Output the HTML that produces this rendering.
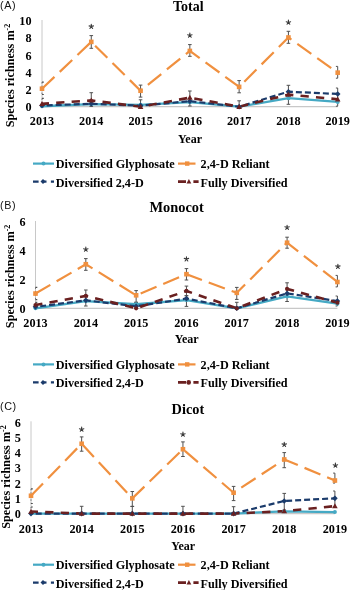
<!DOCTYPE html>
<html><head><meta charset="utf-8"><style>
html,body{margin:0;padding:0;background:#fff;width:350px;height:590px;overflow:hidden;}
svg{display:block;filter:blur(0.3px);}
</style></head><body>
<svg width="350" height="590" viewBox="0 0 350 590">
<rect width="350" height="590" fill="#fff"/>
<text x="0" y="9" font-family='"Liberation Sans", sans-serif' font-size="10.8" letter-spacing="0.6" fill="#111">(A)</text>
<text x="188.3" y="10.5" text-anchor="middle" font-family='"Liberation Serif", serif' font-weight="bold" font-size="14" fill="#000">Total</text>
<line x1="42" y1="20" x2="42" y2="106.7" stroke="#c8c8c8" stroke-width="1"/>
<line x1="42" y1="106.7" x2="337.7" y2="106.7" stroke="#c8c8c8" stroke-width="1.2"/>
<text x="31.5" y="111.3" text-anchor="end" font-family='"Liberation Serif", serif' font-weight="bold" font-size="12.2" fill="#000">0</text>
<text x="31.5" y="94.06" text-anchor="end" font-family='"Liberation Serif", serif' font-weight="bold" font-size="12.2" fill="#000">2</text>
<text x="31.5" y="76.82" text-anchor="end" font-family='"Liberation Serif", serif' font-weight="bold" font-size="12.2" fill="#000">4</text>
<text x="31.5" y="59.58" text-anchor="end" font-family='"Liberation Serif", serif' font-weight="bold" font-size="12.2" fill="#000">6</text>
<text x="31.5" y="42.34" text-anchor="end" font-family='"Liberation Serif", serif' font-weight="bold" font-size="12.2" fill="#000">8</text>
<text x="31.5" y="25.1" text-anchor="end" font-family='"Liberation Serif", serif' font-weight="bold" font-size="12.2" fill="#000">10</text>
<text x="42" y="125" text-anchor="middle" font-family='"Liberation Serif", serif' font-weight="bold" font-size="12.2" fill="#000">2013</text>
<text x="91.28" y="125" text-anchor="middle" font-family='"Liberation Serif", serif' font-weight="bold" font-size="12.2" fill="#000">2014</text>
<text x="140.57" y="125" text-anchor="middle" font-family='"Liberation Serif", serif' font-weight="bold" font-size="12.2" fill="#000">2015</text>
<text x="189.85" y="125" text-anchor="middle" font-family='"Liberation Serif", serif' font-weight="bold" font-size="12.2" fill="#000">2016</text>
<text x="239.13" y="125" text-anchor="middle" font-family='"Liberation Serif", serif' font-weight="bold" font-size="12.2" fill="#000">2017</text>
<text x="288.42" y="125" text-anchor="middle" font-family='"Liberation Serif", serif' font-weight="bold" font-size="12.2" fill="#000">2018</text>
<text x="337.7" y="125" text-anchor="middle" font-family='"Liberation Serif", serif' font-weight="bold" font-size="12.2" fill="#000">2019</text>
<text x="190" y="143" text-anchor="middle" font-family='"Liberation Serif", serif' font-weight="bold" font-size="12" fill="#000">Year</text>
<text transform="translate(13.6,75.5) rotate(-90)" text-anchor="middle" font-family='"Liberation Serif", serif' font-weight="bold" font-size="12.2" fill="#000">Species richness m<tspan font-size="8" dy="-3.8">-2</tspan></text>
<polyline points="42,106.27 91.28,104.11 140.57,104.8 189.85,102.22 239.13,106.7 288.42,98.17 337.7,101.96" fill="none" stroke="#45a9c4" stroke-width="2.3" stroke-linejoin="round"/>
<polyline points="42,88.68 91.28,41.88 140.57,90.75 189.85,50.93 239.13,86.87 288.42,37.48 337.7,72.65" fill="none" stroke="#f0903f" stroke-width="2.2" stroke-dasharray="17.2 7.26"/>
<polyline points="42,105.49 91.28,103.77 140.57,105.67 189.85,101.18 239.13,106.7 288.42,91.7 337.7,93.94" fill="none" stroke="#1b3b6b" stroke-width="2.2" stroke-dasharray="6 3" stroke-dashoffset="4.3"/>
<polyline points="42,103.86 91.28,100.41 140.57,106.7 189.85,97.65 239.13,106.7 288.42,94.63 337.7,99.2" fill="none" stroke="#6a2020" stroke-width="2.6" stroke-dasharray="8.3 7.2" stroke-dashoffset="1.3"/>
<path d="M42 82.1V94.5" stroke="#777" stroke-width="1" stroke-dasharray="1.5 2" fill="none"/>
<path d="M42 82.1H43.8M42 94.5H43.8" stroke="#505050" stroke-width="1.2" fill="none"/>
<path d="M91.28 35.6V48.3M89.48 35.6H93.08M89.48 48.3H93.08" stroke="#505050" stroke-width="1" fill="none"/>
<path d="M140.57 85.1V97.1M138.77 85.1H142.37M138.77 97.1H142.37" stroke="#505050" stroke-width="1" fill="none"/>
<path d="M189.85 44.6V56.3M188.05 44.6H191.65M188.05 56.3H191.65" stroke="#505050" stroke-width="1" fill="none"/>
<path d="M239.13 80.6V92.8M237.33 80.6H240.93M237.33 92.8H240.93" stroke="#505050" stroke-width="1" fill="none"/>
<path d="M288.42 31.3V43.3M286.62 31.3H290.22M286.62 43.3H290.22" stroke="#505050" stroke-width="1" fill="none"/>
<path d="M337.7 66.4V78.2M335.9 66.4H337.7M335.9 78.2H337.7" stroke="#505050" stroke-width="1" fill="none"/>
<path d="M42 98.4V106.7" stroke="#777" stroke-width="1" stroke-dasharray="1.5 2" fill="none"/>
<path d="M42 98.4H43.8M42 106.7H43.8" stroke="#505050" stroke-width="1.2" fill="none"/>
<path d="M91.28 92.7V106.4M89.48 92.7H93.08M89.48 106.4H93.08" stroke="#505050" stroke-width="1" fill="none"/>
<path d="M140.57 99.8V104.9M138.77 99.8H142.37M138.77 104.9H142.37" stroke="#505050" stroke-width="1" fill="none"/>
<path d="M189.85 91V106M188.05 91H191.65M188.05 106H191.65" stroke="#505050" stroke-width="1" fill="none"/>
<path d="M239.13 100.8V106.7M237.33 100.8H240.93M237.33 106.7H240.93" stroke="#505050" stroke-width="1" fill="none"/>
<path d="M288.42 85.3V104.3M286.62 85.3H290.22M286.62 104.3H290.22" stroke="#505050" stroke-width="1" fill="none"/>
<path d="M337.7 88V106.2M335.9 88H337.7M335.9 106.2H337.7" stroke="#505050" stroke-width="1" fill="none"/>
<circle cx="42" cy="106.27" r="2" fill="#45a9c4"/>
<circle cx="91.28" cy="104.11" r="2" fill="#45a9c4"/>
<circle cx="140.57" cy="104.8" r="2" fill="#45a9c4"/>
<circle cx="189.85" cy="102.22" r="2" fill="#45a9c4"/>
<circle cx="239.13" cy="106.7" r="2" fill="#45a9c4"/>
<circle cx="288.42" cy="98.17" r="2" fill="#45a9c4"/>
<circle cx="337.7" cy="101.96" r="2" fill="#45a9c4"/>
<rect x="39.7" y="86.38" width="4.6" height="4.6" fill="#f0903f"/>
<rect x="88.98" y="39.58" width="4.6" height="4.6" fill="#f0903f"/>
<rect x="138.27" y="88.45" width="4.6" height="4.6" fill="#f0903f"/>
<rect x="187.55" y="48.63" width="4.6" height="4.6" fill="#f0903f"/>
<rect x="236.83" y="84.57" width="4.6" height="4.6" fill="#f0903f"/>
<rect x="286.12" y="35.18" width="4.6" height="4.6" fill="#f0903f"/>
<rect x="335.4" y="70.35" width="4.6" height="4.6" fill="#f0903f"/>
<path d="M42 102.69L44.8 105.49L42 108.29L39.2 105.49Z" fill="#1b3b6b"/>
<path d="M91.28 100.97L94.08 103.77L91.28 106.57L88.48 103.77Z" fill="#1b3b6b"/>
<path d="M140.57 102.87L143.37 105.67L140.57 108.47L137.77 105.67Z" fill="#1b3b6b"/>
<path d="M189.85 98.38L192.65 101.18L189.85 103.98L187.05 101.18Z" fill="#1b3b6b"/>
<path d="M239.13 103.9L241.93 106.7L239.13 109.5L236.33 106.7Z" fill="#1b3b6b"/>
<path d="M288.42 88.9L291.22 91.7L288.42 94.5L285.62 91.7Z" fill="#1b3b6b"/>
<path d="M337.7 91.14L340.5 93.94L337.7 96.74L334.9 93.94Z" fill="#1b3b6b"/>
<path d="M42 101.06L44.8 106.06L39.2 106.06Z" fill="#6a2020"/>
<path d="M91.28 97.61L94.08 102.61L88.48 102.61Z" fill="#6a2020"/>
<path d="M140.57 103.9L143.37 108.9L137.77 108.9Z" fill="#6a2020"/>
<path d="M189.85 94.85L192.65 99.85L187.05 99.85Z" fill="#6a2020"/>
<path d="M239.13 103.9L241.93 108.9L236.33 108.9Z" fill="#6a2020"/>
<path d="M288.42 91.83L291.22 96.83L285.62 96.83Z" fill="#6a2020"/>
<path d="M337.7 96.4L340.5 101.4L334.9 101.4Z" fill="#6a2020"/>
<path d="M91.28 26.6L91.28 24.3M91.28 26.6L93.47 25.89M91.28 26.6L89.1 25.89M91.28 26.6L89.93 28.46M91.28 26.6L92.64 28.46" stroke="#3a3a3a" stroke-width="1.1" stroke-linecap="round" fill="none"/>
<path d="M189.85 35.4L189.85 33.1M189.85 35.4L192.04 34.69M189.85 35.4L187.66 34.69M189.85 35.4L188.5 37.26M189.85 35.4L191.2 37.26" stroke="#3a3a3a" stroke-width="1.1" stroke-linecap="round" fill="none"/>
<path d="M288.42 22.4L288.42 20.1M288.42 22.4L290.6 21.69M288.42 22.4L286.23 21.69M288.42 22.4L287.06 24.26M288.42 22.4L289.77 24.26" stroke="#3a3a3a" stroke-width="1.1" stroke-linecap="round" fill="none"/>
<line x1="33" y1="163.6" x2="54" y2="163.6" stroke="#45a9c4" stroke-width="2.2"/>
<circle cx="43.5" cy="163.6" r="2" fill="#45a9c4"/>
<path d="M33 181.6H38.6M50.9 181.6H54" stroke="#1b3b6b" stroke-width="2.2"/>
<path d="M43 179.1L45.5 181.6L43 184.1L40.5 181.6Z" fill="#1b3b6b"/>
<path d="M42 181.6H46.5" stroke="#1b3b6b" stroke-width="2.2"/>
<line x1="178" y1="163.6" x2="195.5" y2="163.6" stroke="#f0903f" stroke-width="2.2"/>
<rect x="185" y="161.4" width="4.4" height="4.4" fill="#f0903f"/>
<path d="M178 181.6H186M193.4 181.6H198.6" stroke="#6a2020" stroke-width="2.6"/>
<path d="M188.9 179.1L191.3 183.4L186.5 183.4Z" fill="#6a2020"/>
<text x="55.8" y="168" font-family='"Liberation Serif", serif' font-weight="bold" font-size="12.2" fill="#000">Diversified Glyphosate</text>
<text x="55.8" y="186.5" font-family='"Liberation Serif", serif' font-weight="bold" font-size="12.2" fill="#000">Diversified 2,4-D</text>
<text x="200.6" y="168" font-family='"Liberation Serif", serif' font-weight="bold" font-size="12.2" fill="#000">2,4-D Reliant</text>
<text x="200.6" y="186.5" font-family='"Liberation Serif", serif' font-weight="bold" font-size="12.2" fill="#000">Fully Diversified</text>
<text x="0" y="209.3" font-family='"Liberation Sans", sans-serif' font-size="10.8" letter-spacing="0.6" fill="#111">(B)</text>
<text x="176.6" y="212.1" text-anchor="middle" font-family='"Liberation Serif", serif' font-weight="bold" font-size="14.4" fill="#000">Monocot</text>
<line x1="35.5" y1="221" x2="35.5" y2="308.3" stroke="#c8c8c8" stroke-width="1"/>
<line x1="35.5" y1="308.3" x2="337.4" y2="308.3" stroke="#c8c8c8" stroke-width="1.2"/>
<text x="25.5" y="312.9" text-anchor="end" font-family='"Liberation Serif", serif' font-weight="bold" font-size="12.2" fill="#000">0</text>
<text x="25.5" y="284" text-anchor="end" font-family='"Liberation Serif", serif' font-weight="bold" font-size="12.2" fill="#000">2</text>
<text x="25.5" y="255.1" text-anchor="end" font-family='"Liberation Serif", serif' font-weight="bold" font-size="12.2" fill="#000">4</text>
<text x="25.5" y="226.2" text-anchor="end" font-family='"Liberation Serif", serif' font-weight="bold" font-size="12.2" fill="#000">6</text>
<text x="35.5" y="327.3" text-anchor="middle" font-family='"Liberation Serif", serif' font-weight="bold" font-size="12.2" fill="#000">2013</text>
<text x="85.82" y="327.3" text-anchor="middle" font-family='"Liberation Serif", serif' font-weight="bold" font-size="12.2" fill="#000">2014</text>
<text x="136.13" y="327.3" text-anchor="middle" font-family='"Liberation Serif", serif' font-weight="bold" font-size="12.2" fill="#000">2015</text>
<text x="186.45" y="327.3" text-anchor="middle" font-family='"Liberation Serif", serif' font-weight="bold" font-size="12.2" fill="#000">2016</text>
<text x="236.77" y="327.3" text-anchor="middle" font-family='"Liberation Serif", serif' font-weight="bold" font-size="12.2" fill="#000">2017</text>
<text x="287.08" y="327.3" text-anchor="middle" font-family='"Liberation Serif", serif' font-weight="bold" font-size="12.2" fill="#000">2018</text>
<text x="337.4" y="327.3" text-anchor="middle" font-family='"Liberation Serif", serif' font-weight="bold" font-size="12.2" fill="#000">2019</text>
<text x="186.7" y="343" text-anchor="middle" font-family='"Liberation Serif", serif' font-weight="bold" font-size="12" fill="#000">Year</text>
<text transform="translate(14.1,276.4) rotate(-90)" text-anchor="middle" font-family='"Liberation Serif", serif' font-weight="bold" font-size="12.2" fill="#000">Species richness m<tspan font-size="8" dy="-3.8">-2</tspan></text>
<polyline points="35.5,308.3 85.82,301.07 136.13,304.25 186.45,300.06 236.77,308.3 287.08,296.45 337.4,303.68" fill="none" stroke="#45a9c4" stroke-width="2.3" stroke-linejoin="round"/>
<polyline points="35.5,293.56 85.82,264.23 136.13,295.3 186.45,274.2 236.77,292.84 287.08,242.7 337.4,282" fill="none" stroke="#f0903f" stroke-width="2.2" stroke-dasharray="17.2 7.26"/>
<polyline points="35.5,306.86 85.82,300.35 136.13,306.28 186.45,298.62 236.77,308.3 287.08,293.42 337.4,301.07" fill="none" stroke="#1b3b6b" stroke-width="2.2" stroke-dasharray="6 3" stroke-dashoffset="4.3"/>
<polyline points="35.5,304.98 85.82,295.87 136.13,308.3 186.45,290.96 236.77,308.3 287.08,288.94 337.4,302.66" fill="none" stroke="#6a2020" stroke-width="2.6" stroke-dasharray="8.3 7.2" stroke-dashoffset="1.3"/>
<path d="M35.5 287.4V299.7" stroke="#777" stroke-width="1" stroke-dasharray="1.5 2" fill="none"/>
<path d="M35.5 287.4H37.3M35.5 299.7H37.3" stroke="#505050" stroke-width="1.2" fill="none"/>
<path d="M85.82 258.6V270.3M84.02 258.6H87.62M84.02 270.3H87.62" stroke="#505050" stroke-width="1" fill="none"/>
<path d="M136.13 290.6V302.3M134.33 290.6H137.93M134.33 302.3H137.93" stroke="#505050" stroke-width="1" fill="none"/>
<path d="M186.45 268.6V280M184.65 268.6H188.25M184.65 280H188.25" stroke="#505050" stroke-width="1" fill="none"/>
<path d="M236.77 287.4V299.4M234.97 287.4H238.57M234.97 299.4H238.57" stroke="#505050" stroke-width="1" fill="none"/>
<path d="M287.08 237.2V248.2M285.28 237.2H288.88M285.28 248.2H288.88" stroke="#505050" stroke-width="1" fill="none"/>
<path d="M337.4 275.4V286.9M335.6 275.4H337.4M335.6 286.9H337.4" stroke="#505050" stroke-width="1" fill="none"/>
<path d="M35.5 302.3V308.3" stroke="#777" stroke-width="1" stroke-dasharray="1.5 2" fill="none"/>
<path d="M35.5 302.3H37.3M35.5 308.3H37.3" stroke="#505050" stroke-width="1.2" fill="none"/>
<path d="M85.82 290V306M84.02 290H87.62M84.02 306H87.62" stroke="#505050" stroke-width="1" fill="none"/>
<path d="M136.13 302.3V306M134.33 302.3H137.93M134.33 306H137.93" stroke="#505050" stroke-width="1" fill="none"/>
<path d="M186.45 286.1V295.7M184.65 286.1H188.25M184.65 295.7H188.25" stroke="#505050" stroke-width="1" fill="none"/>
<path d="M236.77 302.3V308.3M234.97 302.3H238.57M234.97 308.3H238.57" stroke="#505050" stroke-width="1" fill="none"/>
<path d="M287.08 282.8V301.5M285.28 282.8H288.88M285.28 301.5H288.88" stroke="#505050" stroke-width="1" fill="none"/>
<path d="M337.4 296V306M335.6 296H337.4M335.6 306H337.4" stroke="#505050" stroke-width="1" fill="none"/>
<path d="M186.45 295.7V306.4M184.65 295.7H188.25M184.65 306.4H188.25" stroke="#505050" stroke-width="1" fill="none"/>
<circle cx="35.5" cy="308.3" r="2" fill="#45a9c4"/>
<circle cx="85.82" cy="301.07" r="2" fill="#45a9c4"/>
<circle cx="136.13" cy="304.25" r="2" fill="#45a9c4"/>
<circle cx="186.45" cy="300.06" r="2" fill="#45a9c4"/>
<circle cx="236.77" cy="308.3" r="2" fill="#45a9c4"/>
<circle cx="287.08" cy="296.45" r="2" fill="#45a9c4"/>
<circle cx="337.4" cy="303.68" r="2" fill="#45a9c4"/>
<rect x="33.2" y="291.26" width="4.6" height="4.6" fill="#f0903f"/>
<rect x="83.52" y="261.93" width="4.6" height="4.6" fill="#f0903f"/>
<rect x="133.83" y="293" width="4.6" height="4.6" fill="#f0903f"/>
<rect x="184.15" y="271.9" width="4.6" height="4.6" fill="#f0903f"/>
<rect x="234.47" y="290.54" width="4.6" height="4.6" fill="#f0903f"/>
<rect x="284.78" y="240.4" width="4.6" height="4.6" fill="#f0903f"/>
<rect x="335.1" y="279.7" width="4.6" height="4.6" fill="#f0903f"/>
<path d="M35.5 304.06L38.3 306.86L35.5 309.66L32.7 306.86Z" fill="#1b3b6b"/>
<path d="M85.82 297.55L88.62 300.35L85.82 303.15L83.02 300.35Z" fill="#1b3b6b"/>
<path d="M136.13 303.48L138.93 306.28L136.13 309.08L133.33 306.28Z" fill="#1b3b6b"/>
<path d="M186.45 295.82L189.25 298.62L186.45 301.42L183.65 298.62Z" fill="#1b3b6b"/>
<path d="M236.77 305.5L239.57 308.3L236.77 311.1L233.97 308.3Z" fill="#1b3b6b"/>
<path d="M287.08 290.62L289.88 293.42L287.08 296.22L284.28 293.42Z" fill="#1b3b6b"/>
<path d="M337.4 298.27L340.2 301.07L337.4 303.88L334.6 301.07Z" fill="#1b3b6b"/>
<circle cx="35.5" cy="304.98" r="2.1" fill="#6a2020"/>
<circle cx="85.82" cy="295.87" r="2.1" fill="#6a2020"/>
<circle cx="136.13" cy="308.3" r="2.1" fill="#6a2020"/>
<circle cx="186.45" cy="290.96" r="2.1" fill="#6a2020"/>
<circle cx="236.77" cy="308.3" r="2.1" fill="#6a2020"/>
<circle cx="287.08" cy="288.94" r="2.1" fill="#6a2020"/>
<circle cx="337.4" cy="302.66" r="2.1" fill="#6a2020"/>
<path d="M85.82 249.4L85.82 247.1M85.82 249.4L88 248.69M85.82 249.4L83.63 248.69M85.82 249.4L84.46 251.26M85.82 249.4L87.17 251.26" stroke="#3a3a3a" stroke-width="1.1" stroke-linecap="round" fill="none"/>
<path d="M186.45 259.1L186.45 256.8M186.45 259.1L188.64 258.39M186.45 259.1L184.26 258.39M186.45 259.1L185.1 260.96M186.45 259.1L187.8 260.96" stroke="#3a3a3a" stroke-width="1.1" stroke-linecap="round" fill="none"/>
<path d="M287.08 227.5L287.08 225.2M287.08 227.5L289.27 226.79M287.08 227.5L284.9 226.79M287.08 227.5L285.73 229.36M287.08 227.5L288.44 229.36" stroke="#3a3a3a" stroke-width="1.1" stroke-linecap="round" fill="none"/>
<path d="M337.9 266.6L337.9 264.3M337.9 266.6L340.09 265.89M337.9 266.6L335.71 265.89M337.9 266.6L336.55 268.46M337.9 266.6L339.25 268.46" stroke="#3a3a3a" stroke-width="1.1" stroke-linecap="round" fill="none"/>
<line x1="33" y1="364.4" x2="54" y2="364.4" stroke="#45a9c4" stroke-width="2.2"/>
<circle cx="43.5" cy="364.4" r="2" fill="#45a9c4"/>
<path d="M33 382.4H38.6M50.9 382.4H54" stroke="#1b3b6b" stroke-width="2.2"/>
<path d="M43 379.9L45.5 382.4L43 384.9L40.5 382.4Z" fill="#1b3b6b"/>
<path d="M42 382.4H46.5" stroke="#1b3b6b" stroke-width="2.2"/>
<line x1="178" y1="364.4" x2="195.5" y2="364.4" stroke="#f0903f" stroke-width="2.2"/>
<rect x="185" y="362.2" width="4.4" height="4.4" fill="#f0903f"/>
<path d="M178 382.4H186M193.4 382.4H198.6" stroke="#6a2020" stroke-width="2.6"/>
<circle cx="188.7" cy="382.4" r="2.3" fill="#6a2020"/>
<text x="55.8" y="368.8" font-family='"Liberation Serif", serif' font-weight="bold" font-size="12.2" fill="#000">Diversified Glyphosate</text>
<text x="55.8" y="387.3" font-family='"Liberation Serif", serif' font-weight="bold" font-size="12.2" fill="#000">Diversified 2,4-D</text>
<text x="200.6" y="368.8" font-family='"Liberation Serif", serif' font-weight="bold" font-size="12.2" fill="#000">2,4-D Reliant</text>
<text x="200.6" y="387.3" font-family='"Liberation Serif", serif' font-weight="bold" font-size="12.2" fill="#000">Fully Diversified</text>
<text x="0" y="410.2" font-family='"Liberation Sans", sans-serif' font-size="10.8" letter-spacing="0.6" fill="#111">(C)</text>
<text x="187.9" y="413.6" text-anchor="middle" font-family='"Liberation Serif", serif' font-weight="bold" font-size="14.3" fill="#000">Dicot</text>
<line x1="31" y1="421.3" x2="31" y2="513.6" stroke="#c8c8c8" stroke-width="1"/>
<line x1="31" y1="513.6" x2="334.9" y2="513.6" stroke="#c8c8c8" stroke-width="1.2"/>
<text x="20.8" y="518.2" text-anchor="end" font-family='"Liberation Serif", serif' font-weight="bold" font-size="12.2" fill="#000">0</text>
<text x="20.8" y="502.95" text-anchor="end" font-family='"Liberation Serif", serif' font-weight="bold" font-size="12.2" fill="#000">1</text>
<text x="20.8" y="487.7" text-anchor="end" font-family='"Liberation Serif", serif' font-weight="bold" font-size="12.2" fill="#000">2</text>
<text x="20.8" y="472.45" text-anchor="end" font-family='"Liberation Serif", serif' font-weight="bold" font-size="12.2" fill="#000">3</text>
<text x="20.8" y="457.2" text-anchor="end" font-family='"Liberation Serif", serif' font-weight="bold" font-size="12.2" fill="#000">4</text>
<text x="20.8" y="441.95" text-anchor="end" font-family='"Liberation Serif", serif' font-weight="bold" font-size="12.2" fill="#000">5</text>
<text x="20.8" y="426.7" text-anchor="end" font-family='"Liberation Serif", serif' font-weight="bold" font-size="12.2" fill="#000">6</text>
<text x="31" y="532.5" text-anchor="middle" font-family='"Liberation Serif", serif' font-weight="bold" font-size="12.2" fill="#000">2013</text>
<text x="81.65" y="532.5" text-anchor="middle" font-family='"Liberation Serif", serif' font-weight="bold" font-size="12.2" fill="#000">2014</text>
<text x="132.3" y="532.5" text-anchor="middle" font-family='"Liberation Serif", serif' font-weight="bold" font-size="12.2" fill="#000">2015</text>
<text x="182.95" y="532.5" text-anchor="middle" font-family='"Liberation Serif", serif' font-weight="bold" font-size="12.2" fill="#000">2016</text>
<text x="233.6" y="532.5" text-anchor="middle" font-family='"Liberation Serif", serif' font-weight="bold" font-size="12.2" fill="#000">2017</text>
<text x="284.25" y="532.5" text-anchor="middle" font-family='"Liberation Serif", serif' font-weight="bold" font-size="12.2" fill="#000">2018</text>
<text x="334.9" y="532.5" text-anchor="middle" font-family='"Liberation Serif", serif' font-weight="bold" font-size="12.2" fill="#000">2019</text>
<text x="183.2" y="549.6" text-anchor="middle" font-family='"Liberation Serif", serif' font-weight="bold" font-size="12" fill="#000">Year</text>
<text transform="translate(9.8,477) rotate(-90)" text-anchor="middle" font-family='"Liberation Serif", serif' font-weight="bold" font-size="12.2" fill="#000">Species richness m<tspan font-size="8" dy="-3.8">-2</tspan></text>
<polyline points="31,513.6 81.65,513.6 132.3,513.6 182.95,513.6 233.6,513.6 284.25,511.31 334.9,512.08" fill="none" stroke="#45a9c4" stroke-width="2.3" stroke-linejoin="round"/>
<polyline points="31,495.76 81.65,443.75 132.3,498.35 182.95,449.25 233.6,492.71 284.25,459.46 334.9,480.51" fill="none" stroke="#f0903f" stroke-width="2.2" stroke-dasharray="17.2 7.26"/>
<polyline points="31,513.6 81.65,513.6 132.3,513.6 182.95,513.6 233.6,513.6 284.25,500.94 334.9,498.35" fill="none" stroke="#1b3b6b" stroke-width="2.2" stroke-dasharray="6 3" stroke-dashoffset="4.3"/>
<polyline points="31,511.47 81.65,513.6 132.3,513.6 182.95,513.6 233.6,513.6 284.25,511.16 334.9,506.13" fill="none" stroke="#6a2020" stroke-width="2.6" stroke-dasharray="8.3 7.2" stroke-dashoffset="1.3"/>
<path d="M31 488.8V503.5" stroke="#777" stroke-width="1" stroke-dasharray="1.5 2" fill="none"/>
<path d="M31 488.8H32.8M31 503.5H32.8" stroke="#505050" stroke-width="1.2" fill="none"/>
<path d="M81.65 436.9V451.2M79.85 436.9H83.45M79.85 451.2H83.45" stroke="#505050" stroke-width="1" fill="none"/>
<path d="M132.3 491.5V506.5M130.5 491.5H134.1M130.5 506.5H134.1" stroke="#505050" stroke-width="1" fill="none"/>
<path d="M182.95 441.9V456.5M181.15 441.9H184.75M181.15 456.5H184.75" stroke="#505050" stroke-width="1" fill="none"/>
<path d="M233.6 486.4V500.6M231.8 486.4H235.4M231.8 500.6H235.4" stroke="#505050" stroke-width="1" fill="none"/>
<path d="M284.25 452.6V467.7M282.45 452.6H286.05M282.45 467.7H286.05" stroke="#505050" stroke-width="1" fill="none"/>
<path d="M334.9 473.1V483.1M333.1 473.1H334.9M333.1 483.1H334.9" stroke="#505050" stroke-width="1" fill="none"/>
<path d="M31 507V513.6" stroke="#777" stroke-width="1" stroke-dasharray="1.5 2" fill="none"/>
<path d="M31 507H32.8M31 513.6H32.8" stroke="#505050" stroke-width="1.2" fill="none"/>
<path d="M81.65 506.3V513.6M79.85 506.3H83.45M79.85 513.6H83.45" stroke="#505050" stroke-width="1" fill="none"/>
<path d="M132.3 506.3V513.6M130.5 506.3H134.1M130.5 513.6H134.1" stroke="#505050" stroke-width="1" fill="none"/>
<path d="M182.95 506.3V513.6M181.15 506.3H184.75M181.15 513.6H184.75" stroke="#505050" stroke-width="1" fill="none"/>
<path d="M233.6 506.7V513.6M231.8 506.7H235.4M231.8 513.6H235.4" stroke="#505050" stroke-width="1" fill="none"/>
<path d="M284.25 493.4V510.1M282.45 493.4H286.05M282.45 510.1H286.05" stroke="#505050" stroke-width="1" fill="none"/>
<path d="M334.9 491V507M333.1 491H334.9M333.1 507H334.9" stroke="#505050" stroke-width="1" fill="none"/>
<circle cx="31" cy="513.6" r="2" fill="#45a9c4"/>
<circle cx="81.65" cy="513.6" r="2" fill="#45a9c4"/>
<circle cx="132.3" cy="513.6" r="2" fill="#45a9c4"/>
<circle cx="182.95" cy="513.6" r="2" fill="#45a9c4"/>
<circle cx="233.6" cy="513.6" r="2" fill="#45a9c4"/>
<circle cx="284.25" cy="511.31" r="2" fill="#45a9c4"/>
<circle cx="334.9" cy="512.08" r="2" fill="#45a9c4"/>
<rect x="28.7" y="493.46" width="4.6" height="4.6" fill="#f0903f"/>
<rect x="79.35" y="441.45" width="4.6" height="4.6" fill="#f0903f"/>
<rect x="130" y="496.05" width="4.6" height="4.6" fill="#f0903f"/>
<rect x="180.65" y="446.94" width="4.6" height="4.6" fill="#f0903f"/>
<rect x="231.3" y="490.41" width="4.6" height="4.6" fill="#f0903f"/>
<rect x="281.95" y="457.16" width="4.6" height="4.6" fill="#f0903f"/>
<rect x="332.6" y="478.21" width="4.6" height="4.6" fill="#f0903f"/>
<path d="M31 510.8L33.8 513.6L31 516.4L28.2 513.6Z" fill="#1b3b6b"/>
<path d="M81.65 510.8L84.45 513.6L81.65 516.4L78.85 513.6Z" fill="#1b3b6b"/>
<path d="M132.3 510.8L135.1 513.6L132.3 516.4L129.5 513.6Z" fill="#1b3b6b"/>
<path d="M182.95 510.8L185.75 513.6L182.95 516.4L180.15 513.6Z" fill="#1b3b6b"/>
<path d="M233.6 510.8L236.4 513.6L233.6 516.4L230.8 513.6Z" fill="#1b3b6b"/>
<path d="M284.25 498.14L287.05 500.94L284.25 503.74L281.45 500.94Z" fill="#1b3b6b"/>
<path d="M334.9 495.55L337.7 498.35L334.9 501.15L332.1 498.35Z" fill="#1b3b6b"/>
<path d="M31 508.67L33.8 513.67L28.2 513.67Z" fill="#6a2020"/>
<path d="M81.65 510.8L84.45 515.8L78.85 515.8Z" fill="#6a2020"/>
<path d="M132.3 510.8L135.1 515.8L129.5 515.8Z" fill="#6a2020"/>
<path d="M182.95 510.8L185.75 515.8L180.15 515.8Z" fill="#6a2020"/>
<path d="M233.6 510.8L236.4 515.8L230.8 515.8Z" fill="#6a2020"/>
<path d="M284.25 508.36L287.05 513.36L281.45 513.36Z" fill="#6a2020"/>
<path d="M334.9 503.33L337.7 508.33L332.1 508.33Z" fill="#6a2020"/>
<path d="M81.65 429.4L81.65 427.1M81.65 429.4L83.84 428.69M81.65 429.4L79.46 428.69M81.65 429.4L80.3 431.26M81.65 429.4L83 431.26" stroke="#3a3a3a" stroke-width="1.1" stroke-linecap="round" fill="none"/>
<path d="M182.95 434.4L182.95 432.1M182.95 434.4L185.14 433.69M182.95 434.4L180.76 433.69M182.95 434.4L181.6 436.26M182.95 434.4L184.3 436.26" stroke="#3a3a3a" stroke-width="1.1" stroke-linecap="round" fill="none"/>
<path d="M284.25 444.6L284.25 442.3M284.25 444.6L286.44 443.89M284.25 444.6L282.06 443.89M284.25 444.6L282.9 446.46M284.25 444.6L285.6 446.46" stroke="#3a3a3a" stroke-width="1.1" stroke-linecap="round" fill="none"/>
<path d="M335.4 465.4L335.4 463.1M335.4 465.4L337.59 464.69M335.4 465.4L333.21 464.69M335.4 465.4L334.05 467.26M335.4 465.4L336.75 467.26" stroke="#3a3a3a" stroke-width="1.1" stroke-linecap="round" fill="none"/>
<line x1="33" y1="564.7" x2="54" y2="564.7" stroke="#45a9c4" stroke-width="2.2"/>
<circle cx="43.5" cy="564.7" r="2" fill="#45a9c4"/>
<path d="M33 582.6H38.6M50.9 582.6H54" stroke="#1b3b6b" stroke-width="2.2"/>
<path d="M43 580.1L45.5 582.6L43 585.1L40.5 582.6Z" fill="#1b3b6b"/>
<path d="M42 582.6H46.5" stroke="#1b3b6b" stroke-width="2.2"/>
<line x1="178" y1="564.7" x2="195.5" y2="564.7" stroke="#f0903f" stroke-width="2.2"/>
<rect x="185" y="562.5" width="4.4" height="4.4" fill="#f0903f"/>
<path d="M178 582.6H186M193.4 582.6H198.6" stroke="#6a2020" stroke-width="2.6"/>
<path d="M188.9 580.1L191.3 584.4L186.5 584.4Z" fill="#6a2020"/>
<text x="55.8" y="569.1" font-family='"Liberation Serif", serif' font-weight="bold" font-size="12.2" fill="#000">Diversified Glyphosate</text>
<text x="55.8" y="587.5" font-family='"Liberation Serif", serif' font-weight="bold" font-size="12.2" fill="#000">Diversified 2,4-D</text>
<text x="200.6" y="569.1" font-family='"Liberation Serif", serif' font-weight="bold" font-size="12.2" fill="#000">2,4-D Reliant</text>
<text x="200.6" y="587.5" font-family='"Liberation Serif", serif' font-weight="bold" font-size="12.2" fill="#000">Fully Diversified</text>
</svg>
</body></html>
